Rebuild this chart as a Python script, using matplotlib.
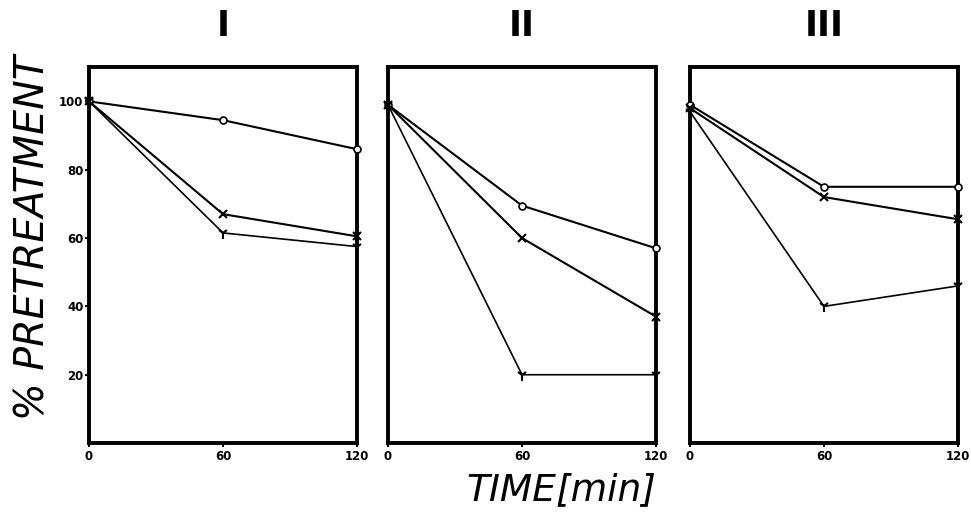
import matplotlib.pyplot as plt

# tempos (min)
tempo = [0, 60, 120]

# paineis I, II, III
paineis = ['I', 'II', 'III']
circulo = [[100, 94.5, 86], [99, 69.5, 57], [99, 75, 75]]
cruz = [[100, 67, 60.5], [99, 60, 37], [98, 72, 65.5]]
tri = [[100, 61.5, 57.5], [99, 20, 20], [97, 40, 46]]

fig = plt.figure(figsize=(9.71, 5.17), dpi=100)
lefts = [0.0917, 0.3996, 0.7106]

for i, nome in enumerate(paineis):
    ax = fig.add_axes([lefts[i], 0.143, 0.276, 0.727])
    ax.plot(tempo, circulo[i], color='black', lw=1.5, marker='o', ms=5,
            mfc='white', mec='black', mew=1.2, clip_on=False, zorder=3)
    ax.plot(tempo, cruz[i], color='black', lw=1.5, marker='x', ms=6,
            mew=1.5, clip_on=False, zorder=3)
    ax.plot(tempo, tri[i], color='black', lw=1.2, marker='1', ms=8,
            mew=1.5, clip_on=False, zorder=3)
    ax.set_xlim(0, 120)
    ax.set_ylim(0, 110)
    for s in ax.spines.values():
        s.set_linewidth(2.8)
    ax.set_xticks(tempo)
    ax.set_xticklabels(['0', '60', '120'], fontweight='bold', fontsize=8.5)
    ax.tick_params(axis='x', length=3, width=1.5, pad=2)
    if i == 0:
        ax.set_yticks([20, 40, 60, 80, 100])
        ax.set_yticklabels(['20', '40', '60', '80', '100'], fontweight='bold', fontsize=8.5)
        ax.tick_params(axis='y', length=3, width=1.5, pad=1)
    else:
        ax.set_yticks([])
    fig.text(lefts[i] + 0.138, 0.95, nome, ha='center', va='center',
             fontsize=25, fontweight='black')

fig.text(0.034, 0.54, '% PRETREATMENT', rotation=90, ha='center', va='center',
         fontsize=28.5, style='italic')
fig.text(0.578, 0.052, 'TIME[min]', ha='center', va='center',
         fontsize=27, style='italic')

plt.savefig('out.png', dpi=100)
